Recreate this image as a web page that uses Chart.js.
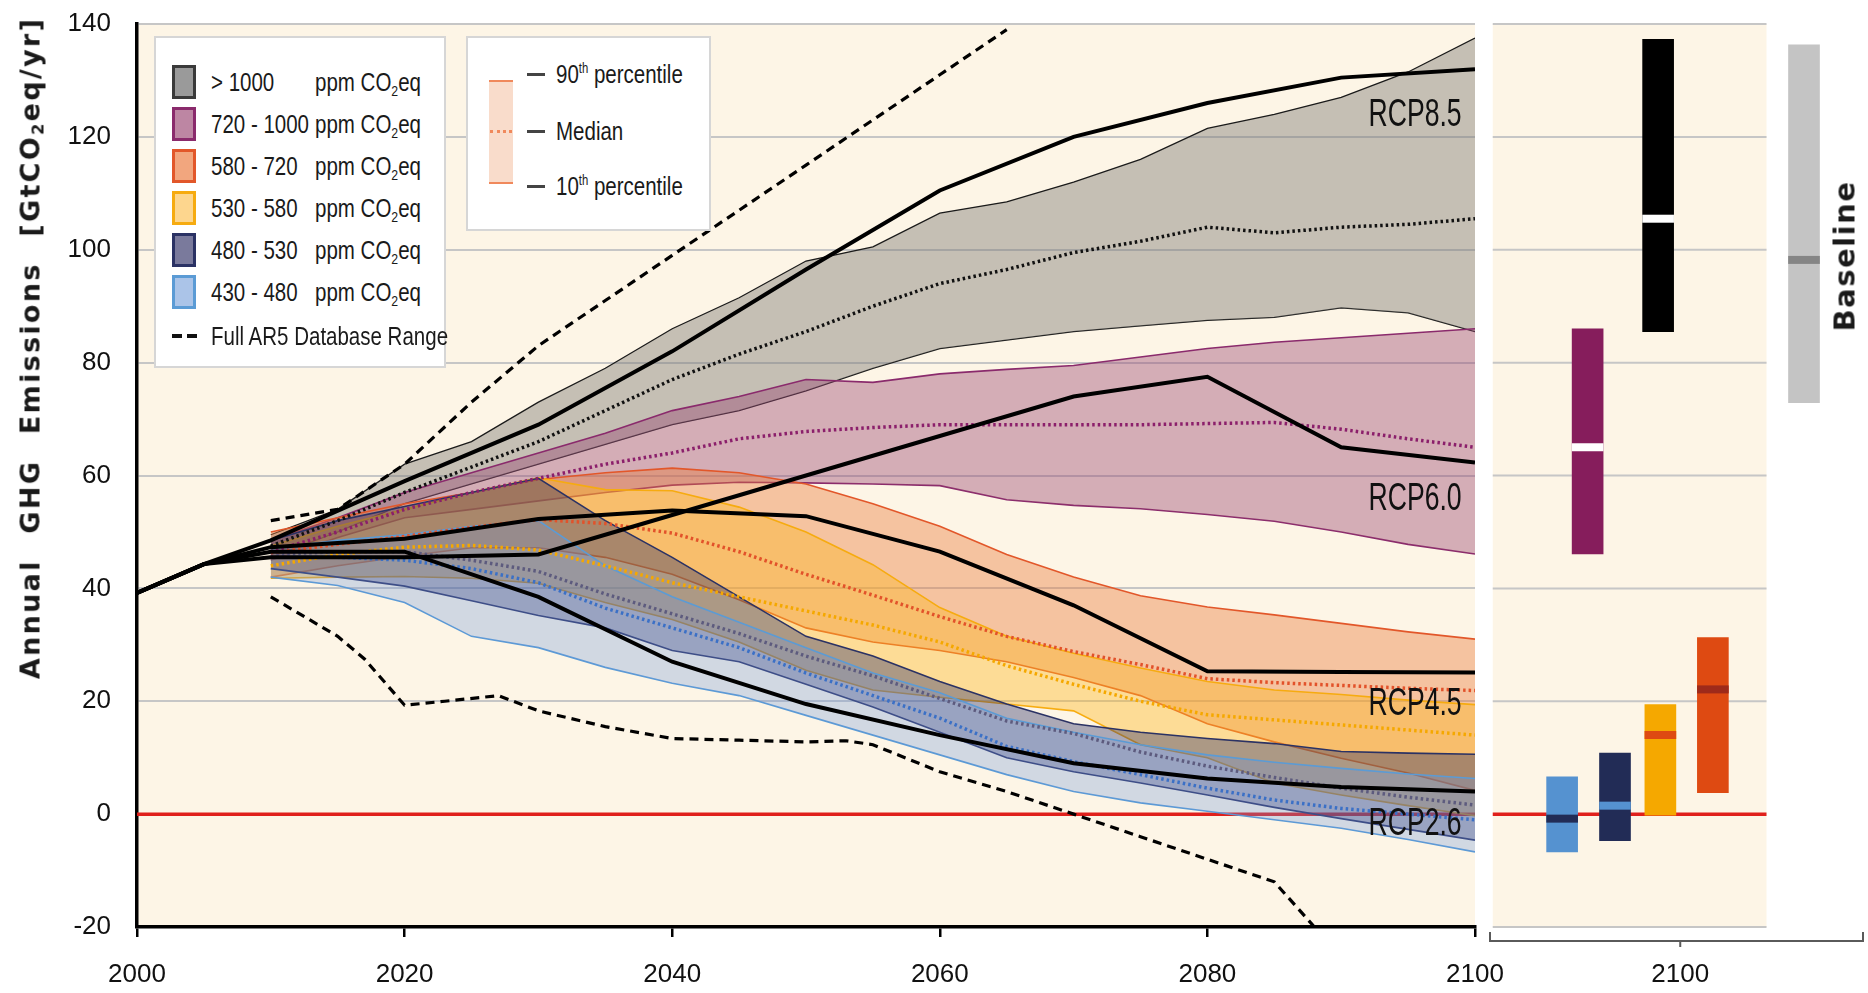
<!DOCTYPE html>
<html><head><meta charset="utf-8">
<script src="https://cdn.jsdelivr.net/npm/chart.js@4.4.1/dist/chart.umd.min.js"></script>
<style>
html,body{margin:0;padding:0;background:#fff;width:1868px;height:993px;overflow:hidden;position:relative;}
canvas{position:absolute;top:0;}
#main{left:0;}
#side{left:1480px;}
.box{position:absolute;background:#fff;border:2px solid #d6d6d6;box-sizing:border-box;}
.t{position:absolute;font-family:"Liberation Sans",Arial,sans-serif;font-size:25px;color:#1a1a1a;white-space:nowrap;height:34px;line-height:34px;transform:scaleX(0.82);transform-origin:0 50%;}
.t sub{font-size:60%;vertical-align:-0.3em;line-height:0;}
.t sup{font-size:55%;vertical-align:0.7em;line-height:0;}
.sw{position:absolute;width:24px;height:34px;box-sizing:border-box;border:3px solid;}
.title{position:absolute;font-family:"DejaVu Sans",sans-serif;font-weight:bold;color:#1a1a1a;white-space:nowrap;transform:translate(-50%,-50%) rotate(-90deg);line-height:1;}
.title sub{font-size:60%;vertical-align:-0.25em;line-height:0;}
</style>
</head><body>
<canvas id="main" width="1505" height="993"></canvas>
<canvas id="side" width="388" height="993"></canvas>

<div class="title" style="left:30px;top:348px;font-size:27px;letter-spacing:2.3px;word-spacing:14px;">Annual GHG Emissions [GtCO<sub>2</sub>eq/yr]</div>
<div class="title" style="left:1845px;top:256px;font-size:29px;letter-spacing:1.5px;">Baseline</div>

<div class="box" style="left:154px;top:36px;width:292px;height:332px;"></div>
<div class="sw" style="left:172px;top:65px;background:#9a9a9a;border-color:#3a3a3a;"></div>
<div class="sw" style="left:172px;top:107px;background:#bd86a3;border-color:#8a2a6c;"></div>
<div class="sw" style="left:172px;top:149px;background:#f2a67e;border-color:#e2572a;"></div>
<div class="sw" style="left:172px;top:191px;background:#fdd68e;border-color:#f6ab10;"></div>
<div class="sw" style="left:172px;top:233px;background:#7a7a9c;border-color:#2b3264;"></div>
<div class="sw" style="left:172px;top:275px;background:#abc4e8;border-color:#5b9bd5;"></div>
<div style="position:absolute;left:172px;top:334px;width:10px;height:4px;background:#111;"></div>
<div style="position:absolute;left:187px;top:334px;width:10px;height:4px;background:#111;"></div>
<div class="t" style="left:211px;top:65px;">&gt; 1000</div>
<div class="t" style="left:211px;top:107px;">720 - 1000</div>
<div class="t" style="left:211px;top:149px;">580 - 720</div>
<div class="t" style="left:211px;top:191px;">530 - 580</div>
<div class="t" style="left:211px;top:233px;">480 - 530</div>
<div class="t" style="left:211px;top:275px;">430 - 480</div>
<div class="t" style="left:315px;top:65px;">ppm CO<sub>2</sub>eq</div>
<div class="t" style="left:315px;top:107px;">ppm CO<sub>2</sub>eq</div>
<div class="t" style="left:315px;top:149px;">ppm CO<sub>2</sub>eq</div>
<div class="t" style="left:315px;top:191px;">ppm CO<sub>2</sub>eq</div>
<div class="t" style="left:315px;top:233px;">ppm CO<sub>2</sub>eq</div>
<div class="t" style="left:315px;top:275px;">ppm CO<sub>2</sub>eq</div>
<div class="t" style="left:211px;top:319px;">Full AR5 Database Range</div>

<div class="box" style="left:466px;top:36px;width:245px;height:195px;"></div>
<div style="position:absolute;left:489px;top:80px;width:24px;height:104px;background:#f9dccb;border-top:2px solid #f0895c;border-bottom:2px solid #f0895c;box-sizing:border-box;"></div>
<div style="position:absolute;left:490px;top:130px;width:22px;height:0;border-top:3px dotted #f0895c;"></div>
<div style="position:absolute;left:527px;top:73px;width:18px;height:3px;background:#444;"></div>
<div style="position:absolute;left:527px;top:130px;width:18px;height:3px;background:#444;"></div>
<div style="position:absolute;left:527px;top:185px;width:18px;height:3px;background:#444;"></div>
<div class="t" style="left:556px;top:57px;">90<sup>th</sup> percentile</div>
<div class="t" style="left:556px;top:114px;">Median</div>
<div class="t" style="left:556px;top:169px;">10<sup>th</sup> percentile</div>

<script>
// ---------------- DATA ----------------
const YEARS = [2010,2015,2020,2025,2030,2035,2040,2045,2050,2055,2060,2065,2070,2075,2080,2085,2090,2095,2100];

const GT1000_P90 = [49.5,54,62,66,73,79,86,91.5,98,100.5,106.5,108.5,112,116,121.5,124,127,131.5,137.5];
const GT1000_MED = [47.5,52,57,61.5,66,71.5,77,81.5,85.5,90,94,96.5,99.5,101.5,104,103,104,104.5,105.5];
const GT1000_P10 = [45.5,50,55,58.5,62,65.5,69,71.5,75,79,82.5,84,85.5,86.5,87.5,88,89.7,88.8,85.5];

const P720_P90 = [48.5,52.5,57,60.5,64,67.5,71.5,74,77,76.5,78,78.8,79.5,81,82.5,83.6,84.4,85.2,86];
const P720_MED = [46.5,50,54,57,59.5,62,64,66.5,67.8,68.5,69,69,69,69,69.2,69.4,68.2,66.5,65];
const P720_P10 = [45,49,52.5,54,55.5,57,58.3,58.8,58.7,58.5,58.2,55.7,54.7,54.1,53.1,51.9,50,47.8,46.1];

const P580_P90 = [50,52.5,55,57,59.3,60.5,61.3,60.5,58.5,55,51,46,42,38.7,36.7,35.3,33.8,32.3,31];
const P580_MED = [46.3,47.8,49.2,50.8,52.2,51.5,49.8,46.5,42.5,38.8,35,31.5,28.8,26.5,24,23.3,22.8,22.3,21.9];
const P580_P10 = [42,44,45.7,47.2,47.2,45.5,42.5,38,33,30.5,29,27,24.2,21,16,12.8,9.9,7.3,4.2];

const P530_P90 = [47.5,51,54,57,59.6,57.5,57.3,54.4,50,44.2,36.6,31.5,28.5,25.9,23.5,22,21.2,20.2,19.4];
const P530_MED = [44,46,47.3,47.6,46.8,44,41,38.5,36,33.5,30.5,26.3,23,20,17.6,16.7,15.8,14.9,14];
const P530_P10 = [41.8,42,42.1,41.8,40.9,37.5,34.5,30.5,25.5,22,20.7,19.5,18.3,12.3,10,5.5,3.4,1.5,-0.3];

const P480_P90 = [48.5,52,54.5,57,59.5,52,45.5,38.5,31.5,28,23.5,19.5,16,14.5,13.4,12.5,11.1,10.8,10.6];
const P480_MED = [46,46.5,46.5,45,43,39,35.5,32,28,24.5,20.5,16.5,14.3,11,8.5,6.5,4.6,3,1.6];
const P480_P10 = [43.5,42,40.4,37.8,35.2,33,29,27,23,19,14.5,10,7.5,5.5,3.4,1.2,-0.8,-2.7,-4.6];

const P430_P90 = [47,48.5,49.5,51,52,44,38.5,34,29.5,25,21.5,17,14.5,12.3,10.5,9.2,8.1,7.1,6.3];
const P430_MED = [45.5,45.5,45,43.5,41,36.5,33,29.5,25,21,17,12,9.3,7,4.6,2.5,1,0,-1];
const P430_P10 = [42,40.5,37.5,31.5,29.5,26,23.2,21,17.5,14,10.5,7,4,2,0.5,-1,-2.5,-4.5,-6.7];

const DB_MAX_YEARS = [2010,2015,2020,2025,2030,2035,2040,2045,2050,2055,2060,2065];
const DB_MAX = [52,54,62,73,83,91,99,107,115,123,131,139];
const DB_MIN_YEARS = [2010,2015,2017,2020,2023,2027,2030,2035,2040,2045,2050,2053,2055,2060,2065,2070,2075,2080,2085,2088];
const DB_MIN = [38.5,31.5,27.5,19.3,20,21,18.3,15.5,13.4,13.1,12.8,13,12.3,7.5,4,0,-4,-8,-12,-20];

const RCP_YEARS = [2000,2005,2010,2020,2030,2040,2050,2060,2070,2080,2090,2100];
const RCP85 = [39.2,44.3,48.5,59,69,82,96.5,110.5,120,126,130.5,132];
const RCP60 = [39.2,44.3,45.5,45.5,46,53,60,67,74,77.5,65,62.3];
const RCP45 = [39.2,44.3,47.3,48.8,52.3,53.8,52.8,46.5,37,25.3,25.2,25.1];
const RCP26 = [39.2,44.3,46.5,46.5,38.5,27,19.5,14,9,6.3,4.8,4];
const RCP_NAMES = ['RCP8.5','RCP6.0','RCP4.5','RCP2.6'];

const ZERO_YEARS = [2000,2100];
const ZERO = [0,0];

const X_TICKS = [2000,2020,2040,2060,2080,2100];
const Y_TICKS = [-20,0,20,40,60,80,100,120,140];

// 2100 ranges (right panel)
const BAR_CATEGORIES = ['430-480','480-530','530-580','580-720','720-1000','>1000','Baseline'];
const BAR_LOW  = [-6.7,-4.7,-0.2,3.8,46.1,85.5,72.9];
const BAR_HIGH = [6.6,10.8,19.4,31.3,86.0,137.3,136.3];
const BAR_MED  = [-0.8,1.5,14.0,22.1,65.0,105.5,98.2];

// ---------------- LAYOUT / STYLE ----------------
const BAR_SLOT = [1.95,3.36,4.57,5.97,2.63,4.51,8.4];
const BAR_COLORS = ['#5592d0','#222c56','#f5a800','#de4a12','#861d5c','#000000','#c4c4c4'];
const MED_COLORS = ['#222c56','#5592d0','#de4a12','#9e2a1a','#ffffff','#ffffff','#858585'];
const RCP_LABEL_VALUE = [123.7,55.7,19.4,-1.9];
const TICK_FONT = {family:'"Liberation Sans",Arial,sans-serif', size:26};

const pts = (xs, ys) => xs.map((x,i)=>({x:x, y:ys[i]}));

function band(p90, p10, fill, line, w){
  return [
    {data:pts(YEARS,p90), borderColor:line, borderWidth:w, backgroundColor:fill, fill:'+1'},
    {data:pts(YEARS,p10), borderColor:line, borderWidth:w, fill:false}
  ];
}
function median(vals, color){
  return {data:pts(YEARS,vals), borderColor:color, borderWidth:3.5, borderDash:[2.5,3], fill:false};
}
function rcp(vals){
  return {data:pts(RCP_YEARS,vals), borderColor:'#000', borderWidth:4, fill:false, borderJoinStyle:'miter'};
}

const datasets = [
  rcp(RCP85), rcp(RCP60), rcp(RCP45), rcp(RCP26),
  {data:pts(DB_MAX_YEARS,DB_MAX), borderColor:'#000', borderWidth:3.2, borderDash:[9,6], fill:false},
  {data:pts(DB_MIN_YEARS,DB_MIN), borderColor:'#000', borderWidth:3.2, borderDash:[9,6], fill:false},
  median(GT1000_MED,'#111'),
  median(P720_MED,'#8b1f6b'),
  median(P580_MED,'#e2522a'),
  median(P530_MED,'#f5a800'),
  median(P480_MED,'#5d5b7e'),
  median(P430_MED,'#3b70c6'),
  ...band(P430_P90,P430_P10,'rgba(110,148,217,0.30)','#5b9bd5',1.6),
  ...band(P480_P90,P480_P10,'rgba(40,46,105,0.38)','#2b3264',1.6),
  ...band(P530_P90,P530_P10,'rgba(253,182,30,0.40)','#f6ab10',1.6),
  ...band(P580_P90,P580_P10,'rgba(233,120,55,0.40)','#e2572a',1.6),
  ...band(P720_P90,P720_P10,'rgba(150,65,110,0.40)','#8a2a6c',1.6),
  ...band(GT1000_P90,GT1000_P10,'rgba(118,116,112,0.42)','#1a1a1a',1.3),
  {data:pts(ZERO_YEARS,ZERO), borderColor:'#e0201b', borderWidth:3.5, fill:false}
];

const bgPlugin = {
  id:'bg',
  beforeDraw(chart){
    const a = chart.chartArea, c = chart.ctx;
    c.save(); c.fillStyle = '#fdf5e6'; c.fillRect(a.left, a.top, a.right-a.left, a.bottom-a.top); c.restore();
  }
};
const rcpLabelPlugin = {
  id:'rcpLabels',
  afterDatasetsDraw(chart){
    const c = chart.ctx, xs = chart.scales.x, ys = chart.scales.y;
    c.save();
    c.fillStyle = '#111';
    c.font = '38px "Liberation Sans",Arial,sans-serif';
    c.textAlign = 'right'; c.textBaseline = 'middle';
    RCP_NAMES.forEach((n,i)=>{
      c.save();
      c.translate(xs.getPixelForValue(2099), ys.getPixelForValue(RCP_LABEL_VALUE[i]));
      c.scale(0.7,1);
      c.fillText(n,0,0);
      c.restore();
    });
    c.restore();
  }
};

const zeroPad = s => { s.paddingTop = 0; s.paddingBottom = 0; s.paddingLeft = 0; s.paddingRight = 0; };

new Chart(document.getElementById('main'), {
  type:'line',
  data:{datasets:datasets},
  options:{
    responsive:false, animation:false, devicePixelRatio:1,
    layout:{padding:{top:24,right:30,left:0,bottom:0}},
    plugins:{legend:{display:false}, tooltip:{enabled:false}},
    elements:{point:{radius:0}, line:{tension:0}},
    scales:{
      x:{type:'linear', min:2000, max:2100, offset:false,
         afterBuildTicks:s=>{s.ticks = X_TICKS.map(v=>({value:v}));},
         ticks:{padding:22, font:TICK_FONT, color:'#111', callback:v=>String(v), maxRotation:0},
         grid:{drawOnChartArea:false, drawTicks:true, tickLength:10, color:'#000', lineWidth:2.5},
         border:{color:'#000', width:3.5},
         afterFit:s=>{s.height = 66; zeroPad(s);}},
      y:{type:'linear', min:-20, max:140,
         afterBuildTicks:s=>{s.ticks = Y_TICKS.map(v=>({value:v}));},
         ticks:{padding:26, font:TICK_FONT, color:'#111', callback:v=>String(v)},
         grid:{color:'#c6c6c6', lineWidth:2, drawTicks:false},
         border:{color:'#000', width:3.5},
         afterFit:s=>{s.width = 137; zeroPad(s);}}
    }
  },
  plugins:[bgPlugin, rcpLabelPlugin]
});

// ---------------- RIGHT PANEL ----------------
const PANEL_FROM = 0.1, PANEL_TO = 7.4, TICK_2100 = 5.1;
const sideSets = [];
BAR_CATEGORIES.forEach((lab,i)=>{
  sideSets.push({label:lab+' median', data:[{x:BAR_SLOT[i], y:[BAR_MED[i]-0.65, BAR_MED[i]+0.65]}], backgroundColor:MED_COLORS[i], order:0});
});
BAR_CATEGORIES.forEach((lab,i)=>{
  sideSets.push({label:lab, data:[{x:BAR_SLOT[i], y:[BAR_LOW[i], BAR_HIGH[i]]}], backgroundColor:BAR_COLORS[i], order:1});
});

const sidePanelPlugin = {
  id:'sidePanel',
  beforeDatasetsDraw(chart){
    const c = chart.ctx, xs = chart.scales.x, ys = chart.scales.y, a = chart.chartArea;
    const x0 = xs.getPixelForValue(PANEL_FROM), x1 = xs.getPixelForValue(PANEL_TO);
    c.save();
    c.fillStyle = '#fdf5e6';
    c.fillRect(x0, a.top, x1-x0, a.bottom-a.top);
    Y_TICKS.forEach(v=>{
      if (v === 0) return;
      const y = ys.getPixelForValue(v);
      c.strokeStyle = '#c6c6c6'; c.lineWidth = 2;
      c.beginPath(); c.moveTo(x0,y); c.lineTo(x1,y); c.stroke();
    });
    const y0 = ys.getPixelForValue(0);
    c.strokeStyle = '#e0201b'; c.lineWidth = 3.5;
    c.beginPath(); c.moveTo(x0,y0); c.lineTo(x1,y0); c.stroke();
    c.restore();
  },
  afterDraw(chart){
    const c = chart.ctx, xs = chart.scales.x, a = chart.chartArea;
    const yb = a.bottom + 14;
    const xl = a.left + 1, xr = a.right - 1, xt = xs.getPixelForValue(TICK_2100);
    c.save();
    c.strokeStyle = '#5a5a5a'; c.lineWidth = 2;
    c.beginPath();
    c.moveTo(xl, yb-9); c.lineTo(xl, yb); c.lineTo(xr, yb); c.lineTo(xr, yb-9);
    c.moveTo(xt, yb); c.lineTo(xt, yb+6);
    c.stroke();
    c.restore();
  }
};

new Chart(document.getElementById('side'), {
  type:'bar',
  data:{datasets:sideSets},
  options:{
    responsive:false, animation:false, devicePixelRatio:1,
    layout:{padding:{top:24,left:9,right:4,bottom:0}},
    plugins:{legend:{display:false}, tooltip:{enabled:false}},
    datasets:{bar:{grouped:false, barThickness:31, borderWidth:0}},
    scales:{
      x:{type:'linear', min:0, max:10, offset:false,
         afterBuildTicks:s=>{s.ticks=[{value:TICK_2100}];},
         ticks:{padding:22, font:TICK_FONT, color:'#111', callback:()=> '2100', maxRotation:0},
         grid:{display:false, drawTicks:true, tickLength:10},
         border:{display:false},
         afterFit:s=>{s.height = 66; zeroPad(s);}},
      y:{display:false, min:-20, max:140}
    }
  },
  plugins:[sidePanelPlugin]
});
</script>
</body></html>
